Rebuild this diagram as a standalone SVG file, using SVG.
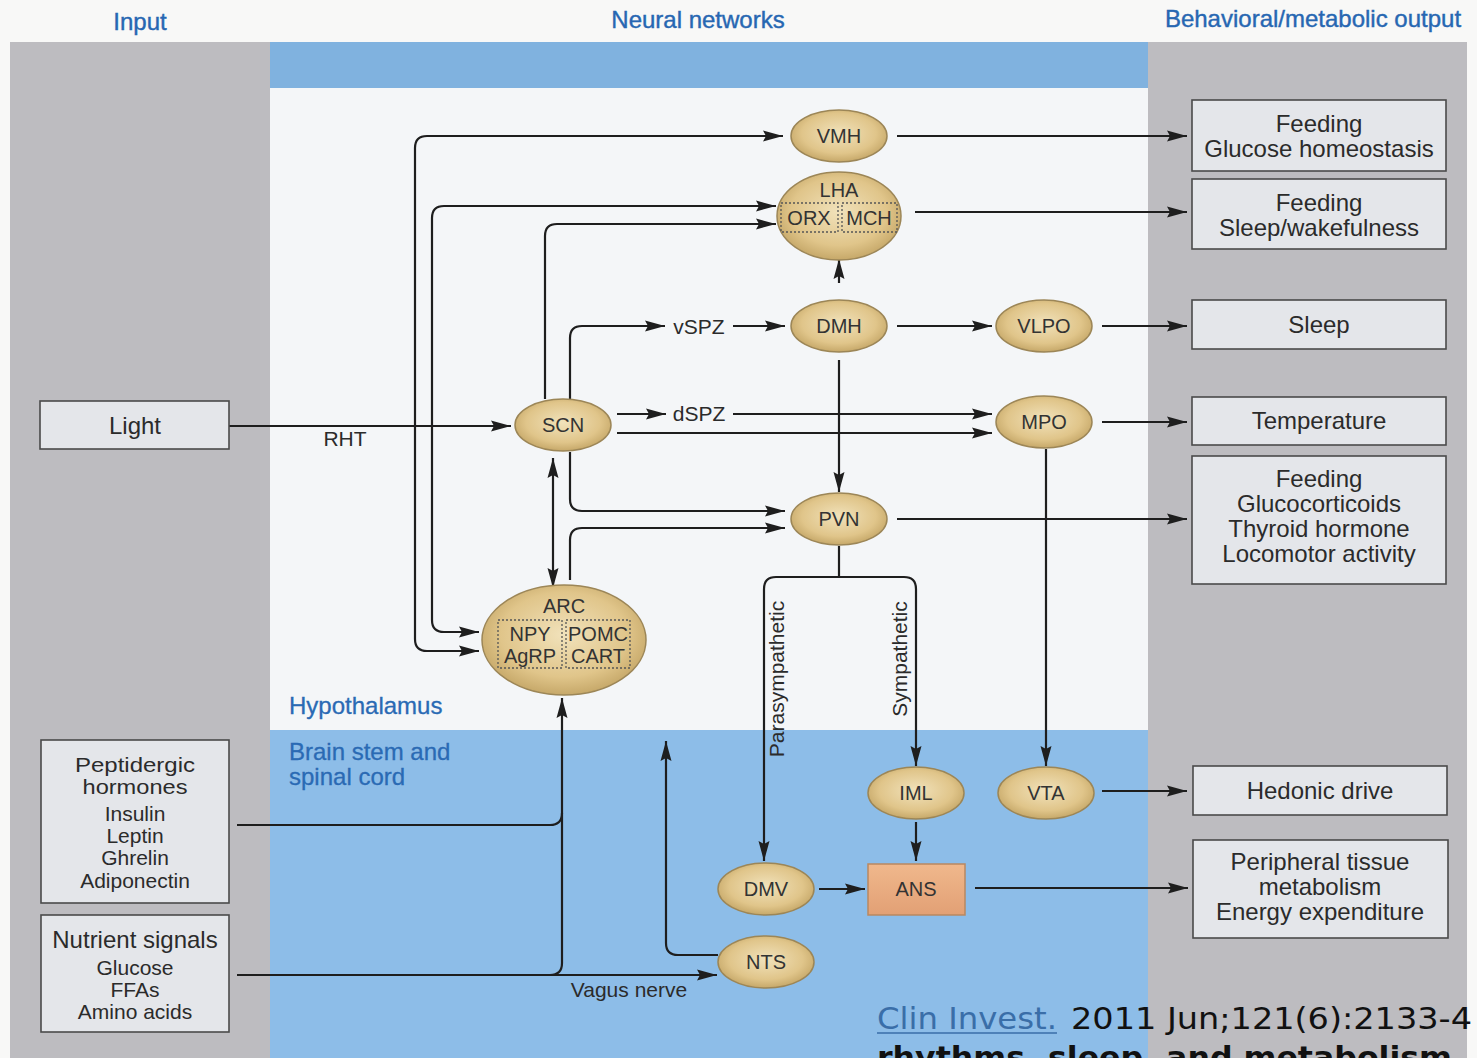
<svg xmlns="http://www.w3.org/2000/svg" width="1477" height="1058" viewBox="0 0 1477 1058">
<defs>
<style>
.hdr{font-family:"Liberation Sans",Arial,sans-serif;font-size:24px;fill:#2767b2;stroke:#2767b2;stroke-width:0.4}
.reg{font-family:"Liberation Sans",Arial,sans-serif;font-size:24px;fill:#2a6ab4;stroke:#2a6ab4;stroke-width:0.3}
.t{font-family:"Liberation Sans",Arial,sans-serif;font-size:24px;fill:#2b2b2b;text-anchor:middle}
.s{font-family:"Liberation Sans",Arial,sans-serif;font-size:21px;fill:#2b2b2b;text-anchor:middle}
.n{font-family:"Liberation Sans",Arial,sans-serif;font-size:20px;fill:#333;text-anchor:middle}
.box{fill:#e4e6ea;stroke:#4a4a4a;stroke-width:1.6}
.node{fill:url(#tan);stroke:#9c8657;stroke-width:1.5}
.edge{fill:none;stroke:#1e1e1e;stroke-width:2.2}
.dot{fill:none;stroke:#555;stroke-width:1.3;stroke-dasharray:2 2}
.cit{font-family:"DejaVu Sans Condensed","DejaVu Sans",sans-serif;font-size:31px}
</style>
<radialGradient id="tan" cx="50%" cy="45%" r="55%">
<stop offset="0" stop-color="#f1e2bb"/>
<stop offset="0.7" stop-color="#e0c58a"/>
<stop offset="1" stop-color="#c6a869"/>
</radialGradient>
<linearGradient id="ans" x1="0" y1="0" x2="0" y2="1">
<stop offset="0" stop-color="#f0b88c"/>
<stop offset="1" stop-color="#e2a075"/>
</linearGradient>
<marker id="ah" markerUnits="userSpaceOnUse" markerWidth="20" markerHeight="12" refX="20" refY="6" orient="auto-start-reverse">
<path d="M0,0.5 L20,6 L0,11.5 L3,6 z" fill="#1e1e1e"/>
</marker>
</defs>

<!-- background -->
<rect x="0" y="0" width="1477" height="1058" fill="#f8f8f7"/>
<rect x="10" y="42" width="260" height="1016" fill="#bdbcc0"/>
<rect x="1148" y="42" width="319" height="1016" fill="#bdbcc0"/>
<rect x="270" y="42" width="878" height="46" fill="#80b2df"/>
<rect x="270" y="88" width="878" height="642" fill="#f4f6f8"/>
<rect x="270" y="730" width="878" height="328" fill="#8dbde8"/>

<text class="hdr" x="140" y="30" text-anchor="middle">Input</text>
<text class="hdr" x="698" y="28" text-anchor="middle">Neural networks</text>
<text class="hdr" x="1313" y="27" text-anchor="middle">Behavioral/metabolic output</text>
<text class="reg" x="289" y="714">Hypothalamus</text>
<text class="reg" x="289" y="760">Brain stem and</text>
<text class="reg" x="289" y="785">spinal cord</text>

<!-- connectors -->
<g id="connectors">
<path class="edge" d="M229,426 H511" marker-end="url(#ah)"/>
<path class="edge" d="M783,136 H427 Q415,136 415,148 V639 Q415,651 427,651 H479" marker-start="url(#ah)" marker-end="url(#ah)"/>
<path class="edge" d="M776,206 H444 Q432,206 432,218 V620 Q432,632 444,632 H479" marker-start="url(#ah)" marker-end="url(#ah)"/>
<path class="edge" d="M545,399 V236 Q545,224 557,224 H776" marker-end="url(#ah)"/>
<path class="edge" d="M570,399 V338 Q570,326 582,326 H665" marker-end="url(#ah)"/>
<path class="edge" d="M733,326 H785" marker-end="url(#ah)"/>
<path class="edge" d="M617,414 H666" marker-end="url(#ah)"/>
<path class="edge" d="M733,414 H992" marker-end="url(#ah)"/>
<path class="edge" d="M617,433 H992" marker-end="url(#ah)"/>
<path class="edge" d="M570,452 V499 Q570,511 582,511 H785" marker-end="url(#ah)"/>
<path class="edge" d="M570,580 V540 Q570,528 582,528 H785" marker-end="url(#ah)"/>
<path class="edge" d="M553,458 V588" marker-start="url(#ah)" marker-end="url(#ah)"/>
<path class="edge" d="M897,136 H1187" marker-end="url(#ah)"/>
<path class="edge" d="M915,212 H1187" marker-end="url(#ah)"/>
<path class="edge" d="M839,283 V259" marker-end="url(#ah)"/>
<path class="edge" d="M897,326 H992" marker-end="url(#ah)"/>
<path class="edge" d="M1102,326 H1187" marker-end="url(#ah)"/>
<path class="edge" d="M1102,422 H1187" marker-end="url(#ah)"/>
<path class="edge" d="M839,360 V492" marker-end="url(#ah)"/>
<path class="edge" d="M897,519 H1187" marker-end="url(#ah)"/>
<path class="edge" d="M839,546 V577 H776 Q764,577 764,589 V861" marker-end="url(#ah)"/>
<path class="edge" d="M839,577 H904 Q916,577 916,589 V766" marker-end="url(#ah)"/>
<path class="edge" d="M1046,449 V766" marker-end="url(#ah)"/>
<path class="edge" d="M1102,791 H1187" marker-end="url(#ah)"/>
<path class="edge" d="M916,822 V861" marker-end="url(#ah)"/>
<path class="edge" d="M819,889 H865" marker-end="url(#ah)"/>
<path class="edge" d="M975,888 H1188" marker-end="url(#ah)"/>
<path class="edge" d="M237,825 H550 Q562,825 562,813"/>
<path class="edge" d="M237,975 H550 Q562,975 562,963 V698" marker-end="url(#ah)"/>
<path class="edge" d="M550,975 H717" marker-end="url(#ah)"/>
<path class="edge" d="M718,955 H678 Q666,955 666,943 V741" marker-end="url(#ah)"/>
<text class="s" x="345" y="446">RHT</text>
<text class="s" x="699" y="334">vSPZ</text>
<text class="s" x="699" y="421">dSPZ</text>
<text class="s" x="629" y="997">Vagus nerve</text>
<text class="s" transform="translate(784,679) rotate(-90)">Parasympathetic</text>
<text class="s" transform="translate(907,659) rotate(-90)">Sympathetic</text>
</g>

<!-- nodes -->
<g id="VMH"><ellipse class="node" cx="839" cy="136" rx="48" ry="26"/><text class="n" x="839" y="143">VMH</text></g>
<g id="LHA"><ellipse class="node" cx="839" cy="216" rx="62" ry="44"/><text class="n" x="839" y="197">LHA</text>
<rect class="dot" x="781" y="203" width="57" height="29"/><rect class="dot" x="842" y="203" width="55" height="29"/>
<text class="n" x="809" y="225">ORX</text><text class="n" x="869" y="225">MCH</text></g>
<g id="DMH"><ellipse class="node" cx="839" cy="326" rx="48" ry="26"/><text class="n" x="839" y="333">DMH</text></g>
<g id="VLPO"><ellipse class="node" cx="1044" cy="326" rx="48" ry="26"/><text class="n" x="1044" y="333">VLPO</text></g>
<g id="SCN"><ellipse class="node" cx="563" cy="425" rx="48" ry="26"/><text class="n" x="563" y="432">SCN</text></g>
<g id="MPO"><ellipse class="node" cx="1044" cy="422" rx="48" ry="26"/><text class="n" x="1044" y="429">MPO</text></g>
<g id="PVN"><ellipse class="node" cx="839" cy="519" rx="48" ry="26"/><text class="n" x="839" y="526">PVN</text></g>
<g id="ARC"><ellipse class="node" cx="564" cy="640" rx="82" ry="55"/><text class="n" x="564" y="613">ARC</text>
<rect class="dot" x="498" y="620" width="64" height="48"/><rect class="dot" x="566" y="620" width="64" height="48"/>
<text class="n" x="530" y="641">NPY</text><text class="n" x="530" y="663">AgRP</text>
<text class="n" x="598" y="641">POMC</text><text class="n" x="598" y="663">CART</text></g>
<g id="IML"><ellipse class="node" cx="916" cy="793" rx="48" ry="26"/><text class="n" x="916" y="800">IML</text></g>
<g id="VTA"><ellipse class="node" cx="1046" cy="793" rx="48" ry="26"/><text class="n" x="1046" y="800">VTA</text></g>
<g id="DMV"><ellipse class="node" cx="766" cy="889" rx="48" ry="26"/><text class="n" x="766" y="896">DMV</text></g>
<g id="NTS"><ellipse class="node" cx="766" cy="962" rx="48" ry="26"/><text class="n" x="766" y="969">NTS</text></g>
<g id="ANS"><rect x="868" y="864" width="97" height="51" fill="url(#ans)" stroke="#b98860" stroke-width="1.5"/><text class="n" x="916" y="896">ANS</text></g>

<!-- input boxes -->
<g id="Light"><rect class="box" x="40" y="401" width="189" height="48"/><text class="t" x="135" y="434">Light</text></g>
<g id="Peptidergic"><rect class="box" x="41" y="740" width="188" height="163"/>
<text class="t" x="135" y="772" style="font-size:21px" textLength="120" lengthAdjust="spacingAndGlyphs">Peptidergic</text>
<text class="t" x="135" y="794" style="font-size:21px" textLength="105" lengthAdjust="spacingAndGlyphs">hormones</text>
<text class="s" x="135" y="821">Insulin</text><text class="s" x="135" y="843">Leptin</text>
<text class="s" x="135" y="865">Ghrelin</text><text class="s" x="135" y="888">Adiponectin</text></g>
<g id="Nutrient"><rect class="box" x="41" y="915" width="188" height="117"/>
<text class="t" x="135" y="948">Nutrient signals</text>
<text class="s" x="135" y="975">Glucose</text><text class="s" x="135" y="997">FFAs</text><text class="s" x="135" y="1019">Amino acids</text></g>

<!-- output boxes -->
<g id="out1"><rect class="box" x="1192" y="100" width="254" height="71"/><text class="t" x="1319" y="132">Feeding</text><text class="t" x="1319" y="157">Glucose homeostasis</text></g>
<g id="out2"><rect class="box" x="1192" y="179" width="254" height="70"/><text class="t" x="1319" y="211">Feeding</text><text class="t" x="1319" y="236">Sleep/wakefulness</text></g>
<g id="out3"><rect class="box" x="1192" y="300" width="254" height="49"/><text class="t" x="1319" y="333">Sleep</text></g>
<g id="out4"><rect class="box" x="1192" y="397" width="254" height="48"/><text class="t" x="1319" y="429">Temperature</text></g>
<g id="out5"><rect class="box" x="1192" y="456" width="254" height="128"/>
<text class="t" x="1319" y="487">Feeding</text><text class="t" x="1319" y="512">Glucocorticoids</text>
<text class="t" x="1319" y="537">Thyroid hormone</text><text class="t" x="1319" y="562">Locomotor activity</text></g>
<g id="out6"><rect class="box" x="1193" y="766" width="254" height="49"/><text class="t" x="1320" y="799">Hedonic drive</text></g>
<g id="out7"><rect class="box" x="1193" y="840" width="255" height="98"/>
<text class="t" x="1320" y="870">Peripheral tissue</text><text class="t" x="1320" y="895">metabolism</text><text class="t" x="1320" y="920">Energy expenditure</text></g>

<!-- citation -->
<text class="cit" x="877" y="1029" fill="#3a6ea8" textLength="180" lengthAdjust="spacingAndGlyphs">Clin Invest.</text>
<line x1="877" y1="1033" x2="1057" y2="1033" stroke="#3a6ea8" stroke-width="1.5"/>
<text class="cit" x="1071" y="1029" fill="#111" textLength="401" lengthAdjust="spacingAndGlyphs">2011 Jun;121(6):2133-4</text>
<text class="cit" x="877" y="1068" fill="#111" font-weight="bold" textLength="575" lengthAdjust="spacingAndGlyphs">rhythms, sleep, and metabolism</text>
</svg>
